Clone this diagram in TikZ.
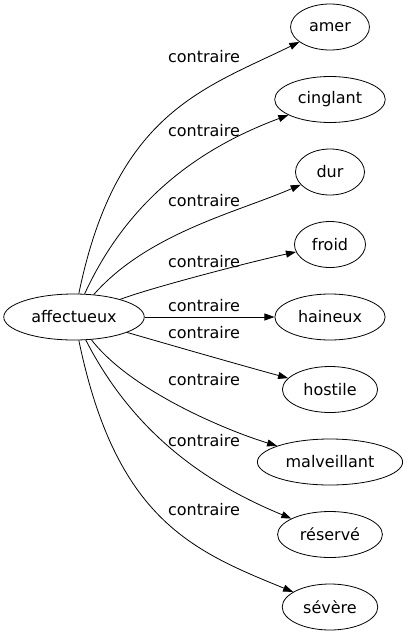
\documentclass[tikz,border=0pt]{standalone}
\usepackage{fontspec}
\setmainfont{DejaVu Sans}
\usepackage{tikz}
\usetikzlibrary{arrows.meta, shapes.geometric}

\begin{document}
\begin{tikzpicture}[x=1pt,y=-1pt,>={Triangle[length=10pt,width=7pt]},
  font=\fontsize{16}{19}\selectfont,
  word/.style={draw,ellipse,line width=0.8pt,minimum width=69pt,minimum height=46pt,inner xsep=7pt,inner ysep=2pt},
  rel/.style={inner sep=0pt},
  edge/.style={->,line width=0.8pt}]
\useasboundingbox (0,0) rectangle (408,635);
% source
\node[word] (aff) at (74,317) {affectueux};
% targets
\node[word] (amer) at (330,27)    {amer};
\node[word] (cing) at (330,99.5)  {cinglant};
\node[word] (dur)  at (330,172)   {dur};
\node[word] (froid) at (330,244.5) {froid};
\node[word] (hain) at (330,317)   {haineux};
\node[word] (host) at (330,389.5) {hostile};
\node[word] (malv) at (330,462)   {malveillant};
\node[word] (rese) at (330,534.5) {réservé};
\node[word] (seve) at (330,607)   {sévère};
% edges
\draw[edge] (aff) .. controls (116,113) and (203,89)  .. (amer);
\draw[edge] (aff) .. controls (131,193) and (208,145) .. (cing);
\draw[edge] (aff) .. controls (148,233) and (238,212) .. (dur);
\draw[edge] (aff) .. controls (150,288) and (250,262) .. (froid);
\draw[edge] (aff) -- (hain);
\draw[edge] (aff) .. controls (160,342) and (240,365) .. (host);
\draw[edge] (aff) .. controls (130,390) and (225,430) .. (malv);
\draw[edge] (aff) .. controls (137,440) and (215,487) .. (rese);
\draw[edge] (aff) .. controls (116,520) and (193,551) .. (seve);
% labels
\node[rel] (l1) at (204,57)  {contraire};
\node[rel] (l2) at (204,131) {contraire};
\node[rel] (l3) at (204,201) {contraire};
\node[rel] (l4) at (204,262) {contraire};
\node[rel] (l5) at (204,306) {contraire};
\node[rel] (l6) at (204,333) {contraire};
\node[rel] (l7) at (204,380) {contraire};
\node[rel] (l8) at (204,441) {contraire};
\node[rel] (l9) at (204,510) {contraire};
\end{tikzpicture}
\end{document}
